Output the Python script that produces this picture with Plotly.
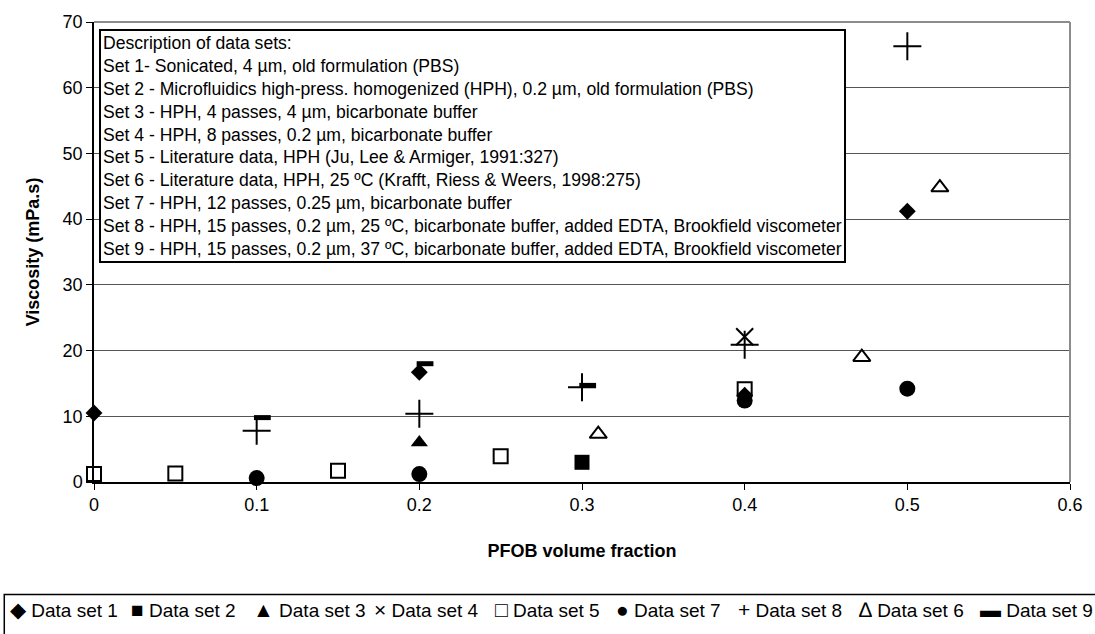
import plotly.graph_objects as go

# ---- data ----
set1_x = [0.0, 0.2, 0.4, 0.5]
set1_y = [10.5, 16.7, 13.2, 41.2]
set2_x = [0.3]
set2_y = [3.0]
set3_x = [0.2]
set3_y = [6.0]
set4_x = [0.4]
set4_y = [22.1]
set5_x = [0.0, 0.05, 0.15, 0.25, 0.4]
set5_y = [1.2, 1.3, 1.7, 3.9, 14.1]
set7_x = [0.1, 0.2, 0.4, 0.5]
set7_y = [0.6, 1.2, 12.4, 14.2]
set8_x = [0.1, 0.2, 0.3, 0.4, 0.5]
set8_y = [7.8, 10.4, 14.4, 20.9, 66.3]
set6_x = [0.31, 0.472, 0.52]
set6_y = [7.3, 19.0, 44.8]
set9_x = [0.1035, 0.2035, 0.3035]
set9_y = [9.8, 18.0, 14.7]

x_ticks = [0, 0.1, 0.2, 0.3, 0.4, 0.5, 0.6]
x_ticklabels = ["0", "0.1", "0.2", "0.3", "0.4", "0.5", "0.6"]
y_ticks = [0, 10, 20, 30, 40, 50, 60, 70]

description_lines = [
    "Description of data sets:",
    "Set 1- Sonicated, 4 µm, old formulation (PBS)",
    "Set 2 - Microfluidics high-press. homogenized (HPH), 0.2 µm, old formulation (PBS)",
    "Set 3 - HPH, 4 passes, 4 µm, bicarbonate buffer",
    "Set 4 - HPH, 8 passes, 0.2 µm, bicarbonate buffer",
    "Set 5 - Literature data, HPH (Ju, Lee & Armiger, 1991:327)",
    "Set 6 - Literature data, HPH, 25 ºC (Krafft, Riess & Weers, 1998:275)",
    "Set 7 - HPH, 12 passes, 0.25 µm, bicarbonate buffer",
    "Set 8 - HPH, 15 passes, 0.2 µm, 25 ºC, bicarbonate buffer, added EDTA, Brookfield viscometer",
    "Set 9 - HPH, 15 passes, 0.2 µm, 37 ºC, bicarbonate buffer, added EDTA, Brookfield viscometer",
]

FONT = "Liberation Sans, Arial, sans-serif"

# name, x, y, plot marker, legend glyph
series = [
    ("Data set 1", set1_x, set1_y, dict(symbol="diamond", size=13, color="black"), "◆"),
    ("Data set 2", set2_x, set2_y, dict(symbol="square", size=15, color="black"), "■"),
    ("Data set 3", set3_x, set3_y, dict(symbol="triangle-up", size=15, color="black"), "▲"),
    ("Data set 4", set4_x, set4_y, dict(symbol="x-thin-open", size=17, color="black",
                                        line=dict(color="black", width=2)), "×"),
    ("Data set 5", set5_x, set5_y, dict(symbol="square-open", size=14, color="black",
                                        line=dict(color="black", width=2)), "□"),
    ("Data set 7", set7_x, set7_y, dict(symbol="circle", size=16, color="black"), "●"),
    ("Data set 8", set8_x, set8_y, dict(symbol="cross-thin-open", size=20, color="black",
                                        line=dict(color="black", width=2)), "+"),
    ("Data set 6", set6_x, set6_y, dict(symbol="triangle-up-open", size=15, color="black",
                                        line=dict(color="black", width=2)), "∆"),
    ("Data set 9", set9_x, set9_y, dict(symbol="line-ew-open", size=12, color="black",
                                        line=dict(color="black", width=5)), "▬"),
]

fig = go.Figure()
for name, xs, ys, mk, _g in series:
    fig.add_trace(go.Scatter(x=xs, y=ys, mode="markers", name=name, marker=mk,
                             cliponaxis=False, showlegend=False))

L, R, T, B = 94, 22, 16, 152
W, H = 1095, 634
PW, PH = W - L - R, H - T - B


def px_x(p):
    return (p - L) / PW


def px_y(p):
    return (H - B - p) / PH


fig.update_layout(
    width=W, height=H,
    margin=dict(l=L, r=R, t=T, b=B),
    paper_bgcolor="white", plot_bgcolor="white",
    font=dict(family=FONT, size=18, color="black"),
    showlegend=False,
)

fig.update_xaxes(
    range=[0, 0.6], tickmode="array", tickvals=x_ticks, ticktext=x_ticklabels,
    showgrid=False, zeroline=False, showline=True, linecolor="black", linewidth=1.5,
    ticks="outside", ticklen=6, tickcolor="black", tickfont=dict(size=18),
    title=dict(text="<b>PFOB volume fraction</b>", font=dict(size=18), standoff=30),
)
fig.update_yaxes(
    range=[0, 70], tickmode="array", tickvals=y_ticks,
    showgrid=True, gridcolor="#555555", gridwidth=1, zeroline=False,
    showline=True, linecolor="black", linewidth=1.5,
    ticks="outside", ticklen=6, tickcolor="black", tickfont=dict(size=18),
    title=dict(text="<b>Viscosity (mPa.s)</b>", font=dict(size=18), standoff=18),
)

# top and right plot borders (grey)
fig.add_shape(type="line", xref="paper", yref="paper", x0=0, x1=1, y0=1, y1=1,
              line=dict(color="#8c8c8c", width=2))
fig.add_shape(type="line", xref="paper", yref="paper", x0=1, x1=1, y0=0, y1=1,
              line=dict(color="#8c8c8c", width=2))

# description box
fig.add_annotation(
    xref="paper", yref="paper", x=px_x(99), y=px_y(23), xanchor="left", yanchor="top",
    text="<br>".join(description_lines), align="left", showarrow=False,
    font=dict(size=17.6, color="black"), bgcolor="white",
    bordercolor="black", borderwidth=2, borderpad=2,
)

# legend row (frame extends past the page edge like the reference)
fig.add_shape(type="rect", xref="paper", yref="paper",
              x0=px_x(4), x1=px_x(1110), y0=px_y(650), y1=px_y(596),
              line=dict(color="black", width=1.5))
legend_left_px = 8
legend_pitch_px = 121.6
for i, (name, _x, _y, _mk, glyph) in enumerate(series):
    fig.add_annotation(
        xref="paper", yref="paper",
        x=px_x(legend_left_px + i * legend_pitch_px), y=px_y(611),
        xanchor="left", yanchor="middle", showarrow=False,
        text=f"<span style='font-size:21px'>{glyph}</span> {name}",
        font=dict(size=19, color="black"),
    )

fig.write_html("out.html")
